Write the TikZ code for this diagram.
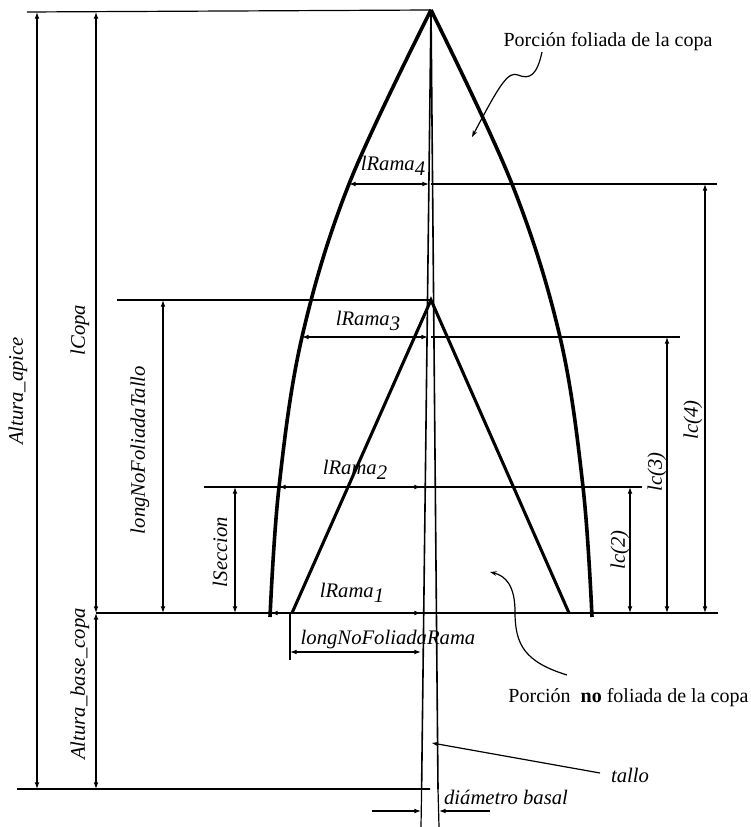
\documentclass[tikz,border=0pt]{standalone}
\usepackage{fontspec}
\setmainfont{Liberation Serif}
\usetikzlibrary{arrows.meta,calc}

\begin{document}
\begin{tikzpicture}[x=0.75pt,y=-0.75pt,
  dim/.style={line width=0.9pt,{Latex[length=5pt,width=3.6pt]}-{Latex[length=5pt,width=3.6pt]}},
  ref/.style={line width=0.9pt},
  crown/.style={line width=2.7pt},
  stem/.style={line width=1.2pt},
  lbl/.style={font=\fontsize{15.5}{18}\selectfont\itshape,inner sep=1pt},
  txt/.style={font=\fontsize{15}{18}\selectfont,inner sep=1pt}]
\useasboundingbox (0,0) rectangle (750,827);
\coordinate (apex) at (431,10); \coordinate (tip) at (431,300);
\coordinate (L) at (270,617); \coordinate (R) at (592,617);
\coordinate (TL) at (292,613); \coordinate (TR) at (569,613);
% reference lines
\draw[ref] (27,12) -- (apex);
\draw[ref] (96,613) -- (718,613);
\draw[ref] (17,789) -- (430,789);
\draw[ref] (117,300) -- (tip);
\draw[ref] (204,487) -- (642,487);
\draw[ref] (431,337) -- (680,337);
\draw[ref] (431,184) -- (717,184);
\draw[ref] (290,613) -- (290,660);
% crown
\draw[crown] plot[smooth,tension=0.6] coordinates {(L) (279,487) (302,337) (349,184) (apex)};
\draw[crown] plot[smooth,tension=0.6] coordinates {(R) (583,487) (560,337) (512,184) (apex)};
\draw[crown,line width=2.3pt] (TL) -- (tip) -- (TR);
% stem
\draw[stem] (apex) -- (421.6,789) -- (430,789);
\draw[ref] (421.6,789) -- (421,827);
\draw[stem] (apex) -- (438,789);
\draw[ref] (438,789) -- (439,827);
% vertical dimensions
\draw[dim] (37,12) -- (37,789);
\draw[dim] (96,12) -- (96,613);
\draw[dim] (96,613) -- (96,789);
\draw[dim] (163,300) -- (163,613);
\draw[dim] (235,487) -- (235,613);
\draw[dim] (630,487) -- (630,613);
\draw[dim] (667,337) -- (667,613);
\draw[dim] (705,184) -- (705,613);
% horizontal dimensions
\draw[dim] (349,184) -- (429,184);
\draw[dim] (302,337) -- (428,337);
\draw[dim] (279,487) -- (421,487);
\draw[dim] (271,613) -- (421,613);
\draw[dim] (290,652) -- (421,652);
\draw[ref,-{Latex[length=5pt,width=3.6pt]}] (372,811) -- (421,811);
\draw[ref,-{Latex[length=5pt,width=3.6pt]}] (490,811) -- (439,811);
% labels
\node[lbl,rotate=90] (altapice) at (18,391) {Altura\_apice};
\node[lbl,rotate=90] (lcopa) at (80,330) {lCopa};
\node[lbl,rotate=90] (altbase) at (80,684) {Altura\_base\_copa};
\node[lbl,rotate=90] (nftallo) at (140,450) {longNoFoliadaTallo};
\node[lbl,rotate=90] (lsecc) at (220,552) {lSeccion};
\node[lbl,rotate=90] (lc2) at (620,550) {lc(2)};
\node[lbl,rotate=90] (lc3) at (657,472) {lc(3)};
\node[lbl,rotate=90] (lc4) at (693,420) {lc(4)};
\node[lbl] (rama4) at (393,166) {lRama\raisebox{-.5ex}{4}};
\node[lbl] (rama3) at (368,321) {lRama\raisebox{-.5ex}{3}};
\node[lbl] (rama2) at (355,470) {lRama\raisebox{-.5ex}{2}};
\node[lbl] (rama1) at (352,593) {lRama\raisebox{-.5ex}{1}};
\node[lbl] (nframa) at (388,640) {longNoFoliadaRama};
\node[lbl] (diam) at (506,797) {diámetro basal};
\node[lbl] (tallo) at (630,775) {tallo};
\node[txt] (fol) at (608,42) {Porción foliada de la copa};
\node[txt,anchor=east] (nofol) at (750,698) {Porción\ \ \textbf{no} foliada de la copa};
% leaders
\coordinate (w0) at (542,52); \coordinate (w1) at (472,137);
\draw[ref,-{Stealth[length=5pt,width=3.5pt]}] (w0) .. controls (537,75) and (530,80) .. (518,75) .. controls (508,71) and (500,84) .. (w1);
\coordinate (c0) at (567,675); \coordinate (c1) at (490,572);
\draw[ref,-{Stealth[length=5pt,width=3.5pt]}] (c0) .. controls (525,662) and (515,645) .. (515,612) .. controls (515,586) and (506,576) .. (c1);
\coordinate (t0) at (600,773); \coordinate (t1) at (432,743);
\draw[ref,-{Stealth[length=5pt,width=3.5pt]}] (t0) -- (t1);
\end{tikzpicture}
\end{document}
